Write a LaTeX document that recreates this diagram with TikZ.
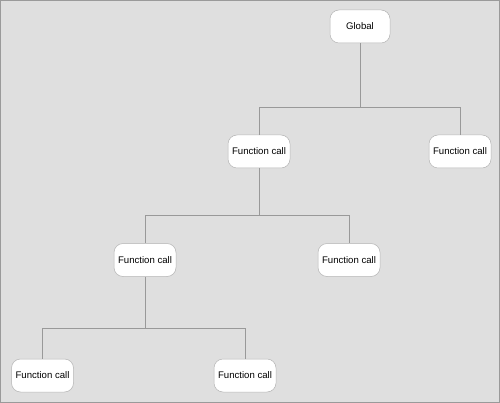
\documentclass[tikz,border=0pt]{standalone}
\usepackage{fontspec}
\setmainfont{Liberation Sans}
\usetikzlibrary{calc}
\definecolor{BackClr}{HTML}{DFDFDF}
\definecolor{FrameClr}{HTML}{9A9A9A}
\definecolor{EdgeClr}{HTML}{999999}
\definecolor{BoxClr}{HTML}{B4B4B4}

\tikzset{
  call/.style={draw=BoxClr,fill=white,rounded corners=9pt,line width=0.5pt,
    minimum width=62pt,minimum height=33pt,inner sep=1pt,
    font=\fontsize{9.6}{11}\selectfont},
  edge/.style={draw=EdgeClr,line width=0.8pt}
}

\begin{document}
\begin{tikzpicture}[x=1pt,y=-1pt]
\filldraw[fill=BackClr,draw=FrameClr,line width=1pt] (0.5,0.5) rectangle (499.5,402.5);
\useasboundingbox (0,0) rectangle (500,403);

\node[call,minimum width=60pt] (global) at (360,26.5) {Global};
\node[call] (fa) at (259,151.5) {Function call};
\node[call] (fb) at (460,151.5) {Function call};
\node[call] (fc) at (145,260) {Function call};
\node[call] (fd) at (349,260) {Function call};
\node[call] (fe) at (42.5,375.5) {Function call};
\node[call] (ff) at (245,375.5) {Function call};

% tree links
\coordinate (j1) at (360,107);
\coordinate (j2) at (259,215);
\coordinate (j3) at (145,328);

\draw[edge] (global) -- (j1) -| (fa);
\draw[edge] (j1) -| (fb);
\draw[edge] (fa) -- (j2) -| (fc);
\draw[edge] (j2) -| (fd);
\draw[edge] (fc) -- (j3) -| (fe);
\draw[edge] (j3) -| (ff);

\end{tikzpicture}
\end{document}
